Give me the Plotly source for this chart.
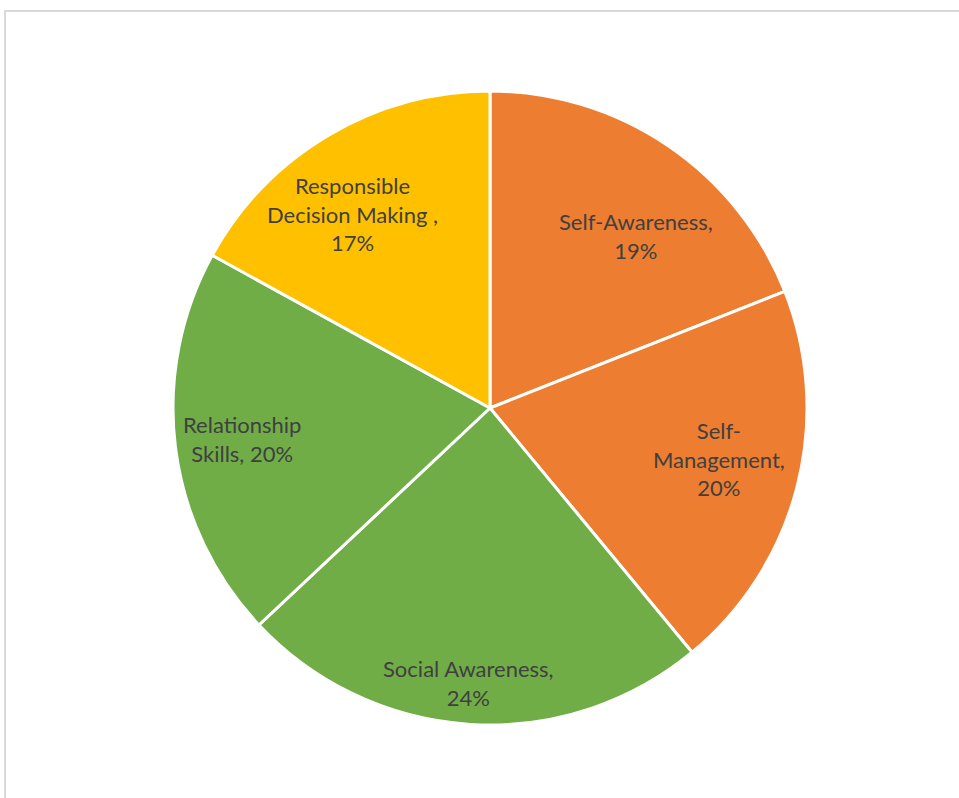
import math
import plotly.graph_objects as go

labels = ["Self-Awareness", "Self-Management", "Social Awareness", "Relationship Skills", "Responsible Decision Making "]
values = [19, 20, 24, 20, 17]
label_lines = ["Self-Awareness,<br>", "Self-<br>Management,<br>", "Social Awareness,<br>",
               "Relationship<br>Skills, ", "Responsible<br>Decision Making ,<br>"]
colors = ["#ED7D31", "#ED7D31", "#70AD47", "#70AD47", "#FFC000"]

# label placement style (radial fraction of radius, pixel nudges)
r_frac = [0.72, 0.745, 0.87, 0.79, 0.75]
nudge_x = [18, 0, -4, 0, -16]
nudge_y = [-17, 8, 0, 0, -11]

W, H = 959, 798
cx, cy, R = 490, 408, 317

fig = go.Figure(go.Pie(
    labels=labels, values=values,
    textinfo="none", sort=False, direction="clockwise", rotation=0,
    marker=dict(colors=colors, line=dict(color="white", width=3)),
    showlegend=False, hoverinfo="label+percent",
    domain=dict(x=[(cx - R) / W, (cx + R) / W], y=[(H - cy - R) / H, (H - cy + R) / H]),
))

total = sum(values)
cum = 0
annotations = []
for i, v in enumerate(values):
    mid = (cum + v / 2) / total * 2 * math.pi
    cum += v
    pct = round(v / total * 100)
    r = r_frac[i] * R
    px = cx + r * math.sin(mid)
    py = cy - r * math.cos(mid)
    annotations.append(dict(
        x=px / W, y=1 - py / H, xref="paper", yref="paper",
        text=f"{label_lines[i]}{pct}%", showarrow=False,
        xanchor="center", yanchor="middle", align="center",
        xshift=nudge_x[i], yshift=nudge_y[i],
        font=dict(family="Lato, Open Sans, sans-serif", size=22, color="#404040"),
    ))

fig.update_layout(
    width=W, height=H, margin=dict(l=0, r=0, t=0, b=0),
    paper_bgcolor="white", plot_bgcolor="white",
    annotations=annotations,
    shapes=[dict(type="rect", xref="paper", yref="paper", x0=5 / W, x1=1.05, y0=-0.05, y1=1 - 11 / H,
                 line=dict(color="#D9D9D9", width=2), fillcolor="rgba(0,0,0,0)")],
)

fig.write_html("out.html")
